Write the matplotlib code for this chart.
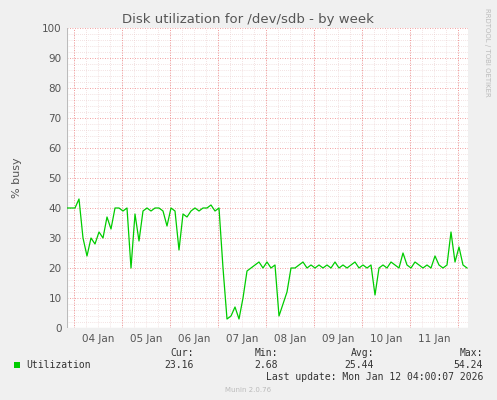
import numpy as np
import matplotlib
matplotlib.use("Agg")
import matplotlib.pyplot as plt

days = ["04 Jan","05 Jan","06 Jan","07 Jan","08 Jan","09 Jan","10 Jan","11 Jan"]
util = [40,40,40,43,30,24,30,28,32,30,37,33,40,40,39,40,20,38,29,39,40,39,40,40,39,34,40,39,26,38,
        37,39,40,39,40,40,41,39,40,20,3,4,7,3,10,19,20,21,22,20,22,20,21,4,8,12,20,20,21,22,
        20,21,20,21,20,21,20,22,20,21,20,21,22,20,21,20,21,11,20,21,20,22,21,20,25,21,20,22,21,20,
        21,20,24,21,20,21,32,22,27,21,20]
stats = {"Cur": "23.16", "Min": "2.68", "Avg": "25.44", "Max": "54.24"}

hours = np.arange(len(util)) * 2.0  # 2-hour sample step from left edge
first_midnight = 3.5  # hours from left edge to 04 Jan 00:00
total = 200.5

fig = plt.figure(figsize=(4.97, 4.0), dpi=100, facecolor="#F0F0F0")
ax = fig.add_axes([67/497, 72/400, 401/497, 300/400], facecolor="white")
ax.set_xlim(0, total)
ax.set_ylim(0, 100)

# minor grid
for y in range(0, 101, 2):
    if y % 10:
        ax.axhline(y, color="#E8C8C8", lw=0.5, ls=(0, (1, 2)), zorder=0)
for h in np.arange(first_midnight - 24, total, 6):
    if h > 0:
        ax.axvline(h, color="#E8C8C8", lw=0.5, ls=(0, (1, 2)), zorder=0)
for y in range(10, 101, 10):
    ax.axhline(y, color="#F08080", lw=0.6, ls=(0, (1, 2)), zorder=1)
mids = [first_midnight + 24 * i for i in range(9)]
for h in mids:
    if h < total:
        ax.axvline(h, color="#F08080", lw=0.6, ls=(0, (1, 2)), zorder=1)

ax.plot(hours, util, color="#00CC00", lw=0.9, zorder=3)

ax.set_yticks(range(0, 101, 10))
ax.set_xticks([first_midnight + 12 + 24 * i for i in range(len(days))])
ax.set_xticklabels(days)
ax.tick_params(axis="both", length=0, labelsize=7.5, colors="#555555", pad=4)
for s in ax.spines.values():
    s.set_visible(False)
ax.axhline(0, color="#BBBBBB", lw=0.8)
ax.axvline(0, color="#BBBBBB", lw=0.8)
ax.set_ylabel("% busy", fontsize=8, color="#555555", labelpad=14)

fig.text(248/497, 1 - 19/400, "Disk utilization for /dev/sdb - by week", ha="center", va="center",
         fontsize=9.5, color="#555555")
fig.text(487/497, 1 - 52/400, "RRDTOOL / TOBI OETIKER", rotation=270, ha="center", va="center",
         fontsize=5, color="#BBBBBB")

mono = "DejaVu Sans Mono"
fig.patches.append(plt.Rectangle((14/497, 1 - 368/400), 6/497, 6/400, transform=fig.transFigure,
                                 facecolor="#00CC00", edgecolor="none"))
fig.text(26/497, 1 - 365/400, "Utilization", fontsize=7, family=mono, color="#333333", va="center")
cols = [(194, "Cur"), (278, "Min"), (374, "Avg"), (483, "Max")]
for x, k in cols:
    fig.text(x/497, 1 - 353/400, k + ":", fontsize=7, family=mono, color="#333333", ha="right", va="center")
    fig.text(x/497, 1 - 365/400, stats[k], fontsize=7, family=mono, color="#333333", ha="right", va="center")
fig.text(483/497, 1 - 377/400, "Last update: Mon Jan 12 04:00:07 2026", fontsize=7, family=mono,
         color="#333333", ha="right", va="center")
fig.text(248/497, 1 - 390/400, "Munin 2.0.76", fontsize=5, color="#BBBBBB", ha="center", va="center")

fig.savefig("out.png", dpi=100, facecolor=fig.get_facecolor())
